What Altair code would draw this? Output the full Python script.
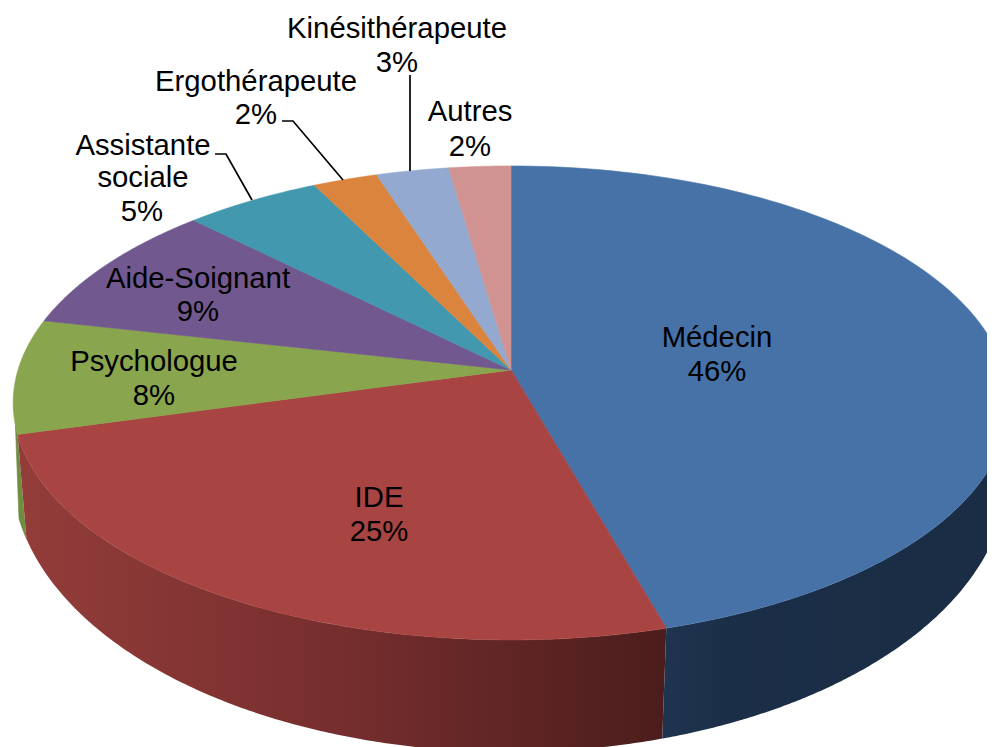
import math
import altair as alt
import pandas as pd

# --- chart values ---------------------------------------------------------
categories = ["Médecin", "IDE", "Psychologue", "Aide-Soignant",
              "Assistante sociale", "Ergothérapeute", "Kinésithérapeute", "Autres"]
shares = [45.6, 25.1, 7.8, 9.0, 5.1, 2.4, 2.7, 2.3]
percent_labels = ["46%", "25%", "8%", "9%", "5%", "2%", "3%", "2%"]
top_colors = ["#4672A8", "#A84441", "#89A54E", "#71588F",
              "#4198AF", "#DB843D", "#93A9CF", "#D19392"]

label_text = ["Kinésithérapeute", "3%", "Ergothérapeute", "2%", "Autres", "2%",
              "Assistante", "sociale", "5%", "Aide-Soignant", "9%",
              "Psychologue", "8%", "IDE", "25%", "Médecin", "46%"]
label_x = [397, 397, 256, 256, 470, 470, 143, 143, 142, 198, 198, 154, 154, 379, 379, 717, 717]
label_y = [29, 63, 82, 115, 112, 147, 146, 178, 212, 279, 312, 362, 396, 498, 532, 338, 372]

leader_x = [[215, 226, 252], [282, 293, 343], [410, 410]]
leader_y = [[154, 154, 200], [121, 121, 180], [75, 171]]

# --- perspective disc geometry -------------------------------------------
CX, CY, RX, RY, K = 511.0, 370.0, 493.0, 232.4, 0.139
BX, BY, BA, BB = 510.0, 472.0, 498.0, 280.0
X0, X1, Y0, Y1 = 8, 987, 8, 747


def top_point(share_pos):
    th = 2 * math.pi * share_pos / 100
    u, v = math.sin(th), math.cos(th)
    w = 1 + K * v
    return CX + RX * u / w, CY - RY * v / w


def bottom_y(x):
    d = max(-1.0, min(1.0, (x - BX) / BA))
    return BY + BB * math.sqrt(1 - d * d)


def wedge(start, end, n=120):
    pts = [(CX, CY)]
    for i in range(n + 1):
        pts.append(top_point(start + (end - start) * i / n))
    pts.append((CX, CY))
    return pts


def frame(pts):
    return pd.DataFrame({"x": [p[0] for p in pts], "y": [p[1] for p in pts], "o": range(len(pts))})


x_scale = alt.Scale(domain=[X0, X1], nice=False, zero=False)
y_scale = alt.Scale(domain=[Y1, Y0], nice=False, zero=False)
X = alt.X("x:Q", scale=x_scale, axis=None)
Y = alt.Y("y:Q", scale=y_scale, axis=None)


def polygon(pts, fill):
    kw = dict(fill=fill, clip=True)
    if isinstance(fill, str):
        kw.update(stroke=fill, strokeWidth=0.6)
    else:
        kw.update(strokeWidth=0)
    return alt.Chart(frame(pts)).mark_line(**kw).encode(x=X, y=Y, order="o:Q")


def grad(stops):
    return alt.Gradient(gradient="linear", x1=0, y1=0, x2=1, y2=0,
                        stops=[alt.GradientStop(offset=o, color=c) for o, c in stops])


cum = [0]
for s in shares:
    cum.append(cum[-1] + s)

layers = []


def wall(start, end, xa, xb, n=160):
    tops = [top_point(start + (end - start) * i / n) for i in range(n + 1)]
    bots = []
    for i in range(n + 1):
        x = xb + (xa - xb) * i / n
        bots.append((x, bottom_y(x)))
    return tops + bots


med_x = BX + 0.98 * (top_point(cum[1])[0] - CX)
ide_x = BX + 0.98 * (top_point(cum[2])[0] - CX)
layers.append(polygon(wall(cum[2], cum[2] + 0.6, ide_x, 19), "#6F8C3F"))
layers.append(polygon(wall(25.0, cum[1], BX + BA, med_x),
                      grad([(0, "#1F3450"), (0.2, "#1B2E47"), (1, "#1A2D45")])))
layers.append(polygon(wall(cum[1], cum[2], med_x, ide_x),
                      grad([(0, "#933D3A"), (0.5, "#762E2E"), (1, "#4B1D1C")])))

# top face
for i, c in enumerate(top_colors):
    layers.append(polygon(wedge(cum[i], cum[i + 1]), c))

# leader lines
for lx, ly in zip(leader_x, leader_y):
    df = pd.DataFrame({"x": lx, "y": ly, "o": range(len(lx))})
    layers.append(alt.Chart(df).mark_line(color="#000000", strokeWidth=1.7).encode(x=X, y=Y, order="o:Q"))

# labels
labels = pd.DataFrame({"x": label_x, "y": label_y, "t": label_text})
layers.append(alt.Chart(labels).mark_text(font="Liberation Sans", fontSize=29.3, color="#000000",
                                          align="center", baseline="middle")
              .encode(x=X, y=Y, text="t:N"))

chart = (alt.layer(*layers)
         .properties(width=X1 - X0, height=Y1 - Y0, padding=0, background="#FFFFFF",
                     autosize=alt.AutoSizeParams(type="none"))
         .configure_view(stroke=None))

chart.save("out.html", embed_options={"renderer": "svg", "actions": False})
